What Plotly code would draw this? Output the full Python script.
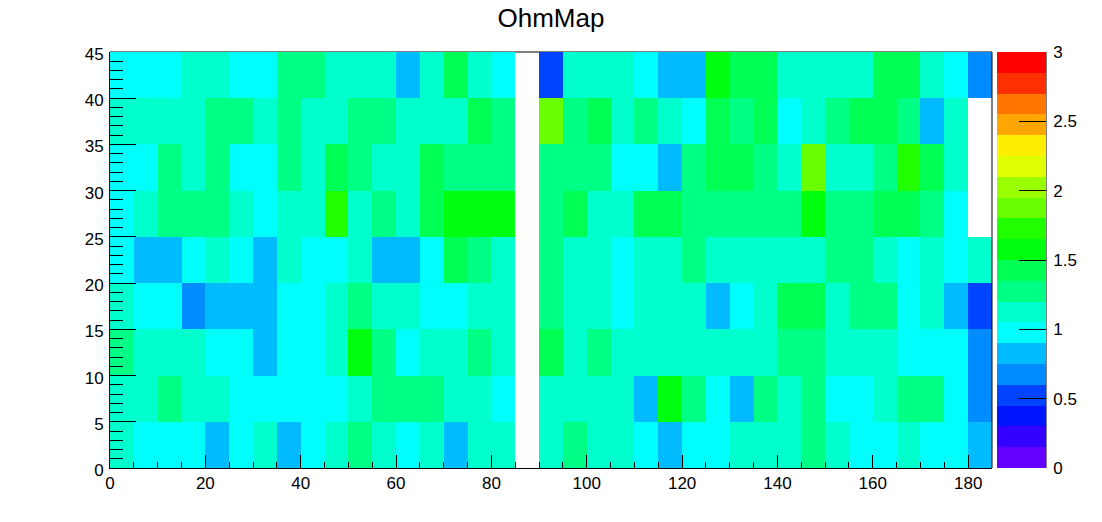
import plotly.graph_objects as go

x_centers = [2.5 + 5 * i for i in range(37)]
y_centers = [2.5, 7.5, 12.5, 17.5, 22.5, 27.5, 32.5, 37.5, 42.5]

row_00_05 = [1.13,.98,.98,.98,.83,.98,1.13,.83,.98,1.13,1.28,1.13,.98,1.13,.83,1.13,1.13,None,1.13,1.28,1.13,1.13,.98,.83,.98,.98,1.13,1.13,1.13,1.28,1.13,.98,.98,1.13,.98,.98,.83]
row_05_10 = [1.13,1.13,1.28,1.13,1.13,.98,.98,.98,.98,.98,1.13,1.28,1.28,1.28,1.13,1.13,.98,None,1.13,1.13,1.13,1.13,.83,1.58,1.28,.98,.83,1.28,1.13,1.28,.98,.98,1.13,1.28,1.28,.98,.68]
row_10_15 = [1.28,1.13,1.13,1.13,.98,.98,.83,.98,.98,1.13,1.58,1.28,.98,1.13,1.13,1.28,1.13,None,1.43,1.13,1.28,1.13,1.13,1.13,1.13,1.13,1.13,1.13,1.28,1.28,1.13,1.13,1.13,.98,.98,.98,.68]
row_15_20 = [1.13,.98,.98,.68,.83,.83,.83,.98,.98,1.13,1.28,1.13,1.13,.98,.98,1.13,1.13,None,1.28,1.13,1.13,.98,1.13,1.13,1.13,.83,.98,1.13,1.43,1.43,1.13,1.28,1.28,.98,1.13,.83,.53]
row_20_25 = [.98,.83,.83,.98,1.13,.98,.83,1.13,.98,.98,1.13,.83,.83,.98,1.43,1.28,1.13,None,1.28,1.13,1.13,.98,1.13,1.13,1.28,1.13,1.13,1.13,1.13,1.13,1.28,1.28,1.13,.98,1.13,.98,1.13]
row_25_30 = [.98,1.13,1.28,1.28,1.28,1.13,.98,1.13,1.13,1.73,1.13,1.28,1.13,1.43,1.58,1.58,1.58,None,1.28,1.43,1.13,1.13,1.43,1.43,1.28,1.28,1.28,1.28,1.28,1.58,1.28,1.28,1.43,1.43,1.28,.98,None]
row_30_35 = [.98,.98,1.28,1.13,1.28,.98,.98,1.28,1.13,1.43,1.28,1.13,1.13,1.43,1.28,1.28,1.28,None,1.28,1.28,1.28,.98,.98,.83,1.28,1.43,1.43,1.28,1.13,1.88,1.13,1.13,1.28,1.73,1.43,1.13,None]
row_35_40 = [1.13,1.13,1.13,1.13,1.28,1.28,1.13,1.28,1.13,1.13,1.28,1.28,1.13,1.13,1.13,1.43,1.28,None,1.88,1.28,1.43,1.13,1.28,1.13,.98,1.43,1.28,1.43,.98,1.13,1.28,1.43,1.43,1.28,.83,1.13,None]
row_40_45 = [.98,.98,.98,1.13,1.13,.98,.98,1.28,1.28,1.13,1.13,1.13,.83,1.13,1.43,1.13,.98,None,.53,1.13,1.13,1.13,.98,.83,.83,1.58,1.43,1.43,1.13,1.13,1.13,1.13,1.43,1.43,1.13,.98,.68]

palette = ["#6300ff","#3300ff","#0014ff","#0044ff","#008bff","#00bbff","#00fffc","#00ffcc","#00ff85","#00ff55",
           "#00ff0e","#22ff00","#69ff00","#99ff00","#e0ff00","#ffee00","#ffa700","#ff7700","#ff3000","#ff0000"]

colorscale = []
for i, c in enumerate(palette):
    colorscale.append([i / 20, c])
    colorscale.append([(i + 1) / 20, c])

z = [row_00_05, row_05_10, row_10_15, row_15_20, row_20_25, row_25_30, row_30_35, row_35_40, row_40_45]

FONT = "Liberation Sans"
W, H = 1102, 522
L, R, T, B = 110, 110, 52, 54
PW = W - L - R
fig = go.Figure(go.Heatmap(
    x=x_centers, y=y_centers, z=z, zmin=0, zmax=3, colorscale=colorscale, hoverongaps=False,
    colorbar=dict(
        thickness=49, thicknessmode="pixels", len=416, lenmode="pixels",
        x=(997 - L) / PW, xanchor="left", xpad=0, y=0, yanchor="bottom", ypad=0,
        outlinewidth=0, ticks="inside", ticklen=27, tickwidth=1, tickcolor="black",
        tick0=0, dtick=0.5, tickprefix="\u2009",
        tickfont=dict(family=FONT, size=17, color="black"),
    ),
))
fig.update_layout(
    width=W, height=H, autosize=False,
    margin=dict(l=L, r=R, t=T, b=B, autoexpand=False),
    paper_bgcolor="white", plot_bgcolor="white",
    font=dict(family=FONT, color="black"),
    title=dict(text="OhmMap", x=0.5, xref="paper", xanchor="center", y=1 - 18 / H, yanchor="middle",
               font=dict(family=FONT, size=26, color="black")),
    xaxis=dict(range=[0, 185], tick0=0, dtick=20, ticks="inside", ticklen=13, tickwidth=1, tickcolor="black",
               minor=dict(tick0=0, dtick=5, ticks="inside", ticklen=6, tickwidth=1, tickcolor="black", showgrid=False),
               showline=True, linecolor="black", linewidth=1, showgrid=False, zeroline=False,
               tickfont=dict(family=FONT, size=17, color="black")),
    yaxis=dict(range=[0, 45], tick0=0, dtick=5, ticks="inside", ticklen=26, tickwidth=1, tickcolor="black",
               minor=dict(tick0=0, dtick=1, ticks="inside", ticklen=13, tickwidth=1, tickcolor="black", showgrid=False),
               showline=True, linecolor="black", linewidth=1, showgrid=False, zeroline=False,
               ticklabelstandoff=2, ticklabelshift=2,
               tickfont=dict(family=FONT, size=17, color="black")),
    shapes=[
        dict(type="line", xref="paper", yref="paper", x0=0, x1=1, y0=1, y1=1, layer="below",
             line=dict(color="black", width=1)),
        dict(type="line", xref="paper", yref="paper", x0=1, x1=1, y0=0, y1=1, layer="above",
             line=dict(color="black", width=1)),
        dict(type="line", xref="paper", yref="paper", x0=(1046 - L) / PW, x1=(1046 - L) / PW, y0=0, y1=1,
             layer="above", line=dict(color="black", width=1)),
    ],
)
fig.write_html("out.html", config={"displayModeBar": False}, post_script="document.body.style.margin='0';")
